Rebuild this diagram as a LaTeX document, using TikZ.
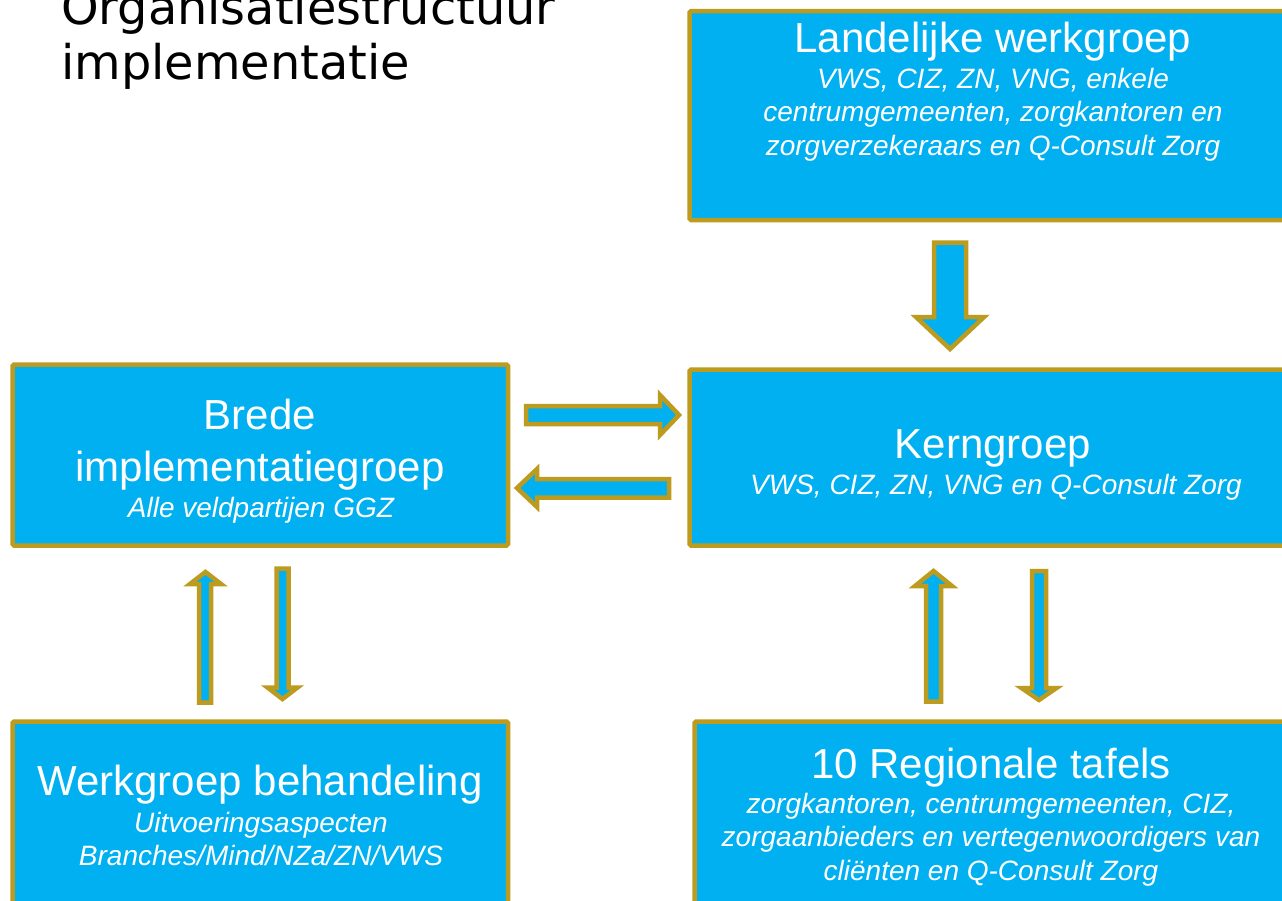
\documentclass[tikz,border=0pt]{standalone}
\usepackage{fontspec}
\setmainfont{Liberation Sans}
\newfontfamily\titlefont{DejaVu Sans}
\definecolor{boxcyan}{HTML}{00B0F0}
\definecolor{boxgold}{RGB}{189,155,31}
\newcommand\VArrow[7]{%
  \draw[blockarrow] (#1,#3) -- (#2,#3) -- (#2,#4) -- (#6,#4) -- ({(#5+#6)/2},#7) -- (#5,#4) -- (#1,#4) -- cycle;}
\newcommand\HArrow[7]{%
  \draw[blockarrow] (#3,#1) -- (#3,#2) -- (#4,#2) -- (#4,#6) -- (#7,{(#5+#6)/2}) -- (#4,#5) -- (#4,#1) -- cycle;}
\tikzset{
  box/.style={draw=boxgold, fill=boxcyan, line width=4.5pt, rounded corners=1.5pt, rectangle, inner sep=0pt},
  blockarrow/.style={draw=boxgold, fill=boxcyan, line width=4.5pt, line join=miter},
  head/.style={text=white, inner sep=0pt, anchor=base, font=\fontsize{42}{50}\selectfont},
  sub/.style={text=white, inner sep=0pt, anchor=base, font=\fontsize{28}{33.6}\selectfont\itshape},
  ttl/.style={text=black, inner sep=0pt, anchor=base west, font=\titlefont\fontsize{47.8}{53}\selectfont}
}
\begin{document}
\begin{tikzpicture}[x=1pt,y=-1pt]
\useasboundingbox (0,0) rectangle (1282,900);
\clip (0,0) rectangle (1282,900);
\fill[white] (0,0) rectangle (1282,900);
% title
\node[ttl] (t1) at (61,24) {Organisatiestructuur};
\node[ttl] (t2) at (61,79) {implementatie};
% boxes
\node[box, minimum width=607pt, minimum height=209pt] (lw) at (993,115.5) {};
\node[box, minimum width=607pt, minimum height=176pt] (kg) at (993,457.5) {};
\node[box, minimum width=495.5pt, minimum height=181pt] (bi) at (260.25,455) {};
\node[box, minimum width=495.5pt, minimum height=193pt] (wb) at (260.25,818) {};
\node[box, minimum width=593pt, minimum height=188pt] (rt) at (991,815.5) {};
% texts
\node[head] (lw1) at (993,52) {Landelijke werkgroep};
\node[sub] (lw2) at (993,88) {VWS, CIZ, ZN, VNG, enkele};
\node[sub] (lw3) at (993,121.5) {centrumgemeenten, zorgkantoren en};
\node[sub] (lw4) at (993,155) {zorgverzekeraars en Q-Consult Zorg};
\node[head] (kg1) at (993,458) {Kerngroep};
\node[sub] (kg2) at (996,494) {VWS, CIZ, ZN, VNG en Q-Consult Zorg};
\node[head] (bi1) at (260,429) {Brede};
\node[head] (bi2) at (260,481) {implementatiegroep};
\node[sub] (bi3) at (261,517) {Alle veldpartijen GGZ};
\node[head] (wb1) at (260,795) {Werkgroep behandeling};
\node[sub] (wb2) at (261,832) {Uitvoeringsaspecten};
\node[sub] (wb3) at (261,865.5) {Branches/Mind/NZa/ZN/VWS};
\node[head] (rt1) at (991,778) {10 Regionale tafels};
\node[sub] (rt2) at (991,813) {zorgkantoren, centrumgemeenten, CIZ,};
\node[sub] (rt3) at (991,846.5) {zorgaanbieders en vertegenwoordigers van};
\node[sub] (rt4) at (991,880) {cliënten en Q-Consult Zorg};
% block arrows
\VArrow{934}{966}{242.5}{317}{916}{984}{349}
\HArrow{406}{424}{526}{660}{395}{435}{679}
\HArrow{479}{497.5}{669}{537}{469}{507}{517}
\VArrow{199}{211}{702.5}{584}{190}{221}{572}
\VArrow{276.5}{288.5}{568.5}{687.5}{267.5}{297.5}{699}
\VArrow{926}{941}{701.5}{586}{915}{952}{571}
\VArrow{1032}{1046}{571}{688}{1021.5}{1056.5}{700}
\end{tikzpicture}
\end{document}
